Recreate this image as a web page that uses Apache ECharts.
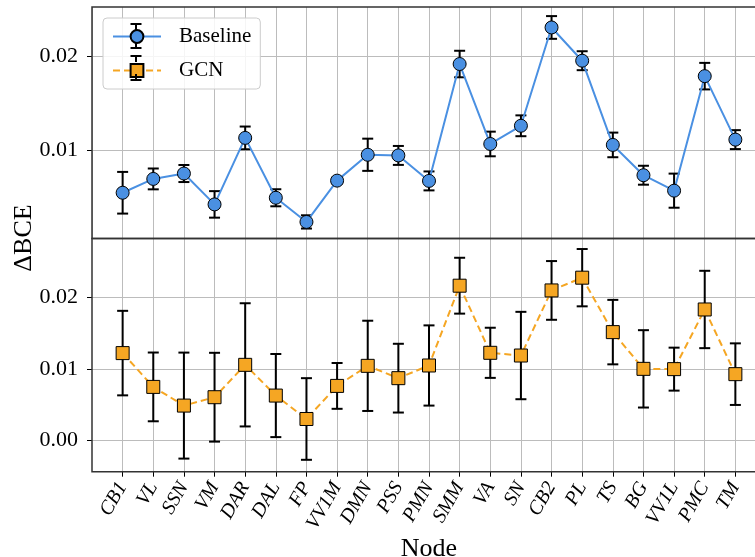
<!DOCTYPE html>
<html><head><meta charset="utf-8">
<script src="https://cdn.jsdelivr.net/npm/echarts@6/dist/echarts.min.js"></script>
<style>html,body{margin:0;padding:0;background:#fff}#c{width:755px;height:557px}</style>
</head><body><div id="c"></div>
<script>
const categories = ['CB1','VL','SSN','VM','DAR','DAL','FP','VV1M','DMN','PSS','PMN','SMM','VA','SN','CB2','PL','TS','BG','VV1L','PMC','TM'];
const baselineMean = [0.00556,0.00702,0.00759,0.00433,0.01135,0.00503,0.00248,0.00684,0.00957,0.0095,0.00681,0.01915,0.01071,0.01263,0.02301,0.0195,0.01061,0.00741,0.00578,0.01787,0.01117];
const baselineErr = [0.0022,0.0011,0.0009,0.0014,0.0012,0.0009,0.0007,0.0003,0.0017,0.001,0.001,0.0014,0.0013,0.0011,0.0012,0.001,0.0013,0.001,0.0018,0.0014,0.001];
const gcnMean = [0.0122,0.00748,0.00487,0.00604,0.01056,0.00627,0.003,0.00762,0.01042,0.0087,0.01047,0.02161,0.01224,0.01186,0.02095,0.02273,0.01513,0.01,0.00996,0.01829,0.00926];
const gcnErr = [0.0059,0.0048,0.0074,0.0062,0.0086,0.0058,0.0057,0.0032,0.0063,0.0048,0.0056,0.0039,0.0035,0.0061,0.0041,0.004,0.0045,0.0054,0.003,0.0054,0.0043];
const topTicks = [0.01, 0.02];
const bottomTicks = [0.00, 0.01, 0.02];

const FONT = 'Liberation Serif';
const BLUE = '#4a90e2', ORANGE = '#f5a623', GRIDC = '#bcbcbc', SPINE = '#333';

const chart = echarts.init(document.getElementById('c'), null, {renderer: 'canvas'});

const catIdx = categories.map((c,i)=>i);
function pts(m){ return m.map((v,i)=>[i,v]); }
function errs(m,e){ return m.map((v,i)=>[i, v-e[i], v+e[i]]); }
function errorBar(params, api){
  const x = api.value(0), lo = api.value(1), hi = api.value(2);
  const p1 = api.coord([x, lo]), p2 = api.coord([x, hi]);
  const w = 5.5;
  const style = {stroke:'#000', lineWidth:2, fill:null};
  return {type:'group', children:[
    {type:'line', shape:{x1:p1[0],y1:p1[1],x2:p2[0],y2:p2[1]}, style:style},
    {type:'line', shape:{x1:p1[0]-w,y1:p1[1],x2:p1[0]+w,y2:p1[1]}, style:style},
    {type:'line', shape:{x1:p2[0]-w,y1:p2[1],x2:p2[0]+w,y2:p2[1]}, style:style}
  ]};
}

const xCommon = {
  type:'value', min:-1, max:21, interval:1,
  axisLine:{show:false, onZero:false},
  splitLine:{show:true, lineStyle:{color:GRIDC, width:1}}
};
function yAxisDef(idx, min, max, ticks){
  return {
    type:'value', gridIndex:idx, min:min, max:max, minInterval:0.01, maxInterval:0.01, splitNumber:3,
    axisLine:{show:false, onZero:false},
    axisTick:{show:true, length:5, lineStyle:{color:'#000', width:1}, customValues:ticks},
    axisLabel:{show:true, margin:14, color:'#000', fontFamily:FONT, fontSize:22, customValues:ticks,
      formatter:v=>v.toFixed(2)},
    splitLine:{show:true, lineStyle:{color:GRIDC, width:1}}
  };
}

// legend error-bar glyph decoration (legend icon only)
function legendBar(cx, cy){
  const s = {stroke:'#000', lineWidth:2};
  return [
    {type:'line', shape:{x1:cx, y1:cy-12, x2:cx, y2:cy-6}, style:s, z:40},
    {type:'line', shape:{x1:cx, y1:cy+6, x2:cx, y2:cy+12}, style:s, z:40},
    {type:'line', shape:{x1:cx-5.5, y1:cy-12, x2:cx+5.5, y2:cy-12}, style:s, z:40},
    {type:'line', shape:{x1:cx-5.5, y1:cy+12, x2:cx+5.5, y2:cy+12}, style:s, z:40}
  ];
}

chart.setOption({
  animation:false,
  backgroundColor:'#fff',
  grid:[
    {left:92, right:-11, top:7, height:231.5, show:true, borderColor:SPINE, borderWidth:1.5, backgroundColor:'transparent', z:10, outerBoundsMode:'none', containLabel:false},
    {left:92, right:-11, top:238.5, height:233.2, show:true, borderColor:SPINE, borderWidth:1.5, backgroundColor:'transparent', z:10, outerBoundsMode:'none', containLabel:false}
  ],
  xAxis:[
    Object.assign({gridIndex:0, axisTick:{show:false}, axisLabel:{show:false}}, xCommon),
    Object.assign({gridIndex:1,
      axisTick:{show:true, length:5, lineStyle:{color:'#000'}, customValues:catIdx},
      axisLabel:{show:true, rotate:60, margin:12, color:'#000', fontFamily:FONT, fontStyle:'italic', fontSize:20,
        formatter:v=> (v>=0 && v<categories.length) ? categories[v] : ''},
      name:'Node', nameLocation:'middle', nameGap:60,
      nameTextStyle:{fontFamily:FONT, fontSize:26, color:'#000'}}, xCommon)
  ],
  yAxis:[
    yAxisDef(0, 0.00073, 0.02517, topTicks),
    yAxisDef(1, -0.00436, 0.0282, bottomTicks)
  ],
  legend:{
    data:['Baseline','GCN'], orient:'vertical', left:103, top:18,
    padding:[8,9,8,9], itemWidth:48, itemHeight:16, itemGap:13,
    backgroundColor:'rgba(255,255,255,0.85)', borderColor:'#cccccc', borderWidth:1, borderRadius:4,
    textStyle:{fontFamily:FONT, fontSize:21, color:'#000', padding:[0,0,0,13]},
    z:20
  },
  graphic:[
    {type:'text', x:24, y:238, rotation:Math.PI/2, z:30,
      style:{text:'ΔBCE', font:'26px "Liberation Serif"', fill:'#000', textAlign:'center', textVerticalAlign:'middle'}}
  ].concat(legendBar(136, 36), legendBar(136, 68)),
  series:[
    {type:'custom', name:'Baseline err', xAxisIndex:0, yAxisIndex:0, renderItem:errorBar, data:errs(baselineMean, baselineErr), encode:{x:0, y:[1,2]}, z:2, silent:true},
    {type:'line', name:'Baseline', xAxisIndex:0, yAxisIndex:0, data:pts(baselineMean), symbol:'circle', symbolSize:13,
      lineStyle:{color:BLUE, width:2}, itemStyle:{color:BLUE, borderColor:'#000', borderWidth:1}, z:3},
    {type:'custom', name:'GCN err', xAxisIndex:1, yAxisIndex:1, renderItem:errorBar, data:errs(gcnMean, gcnErr), encode:{x:0, y:[1,2]}, z:2, silent:true},
    {type:'line', name:'GCN', xAxisIndex:1, yAxisIndex:1, data:pts(gcnMean), symbol:'rect', symbolSize:13,
      lineStyle:{color:ORANGE, width:2, type:[7,4]}, itemStyle:{color:ORANGE, borderColor:'#000', borderWidth:1}, z:3}
  ]
});
</script></body></html>
